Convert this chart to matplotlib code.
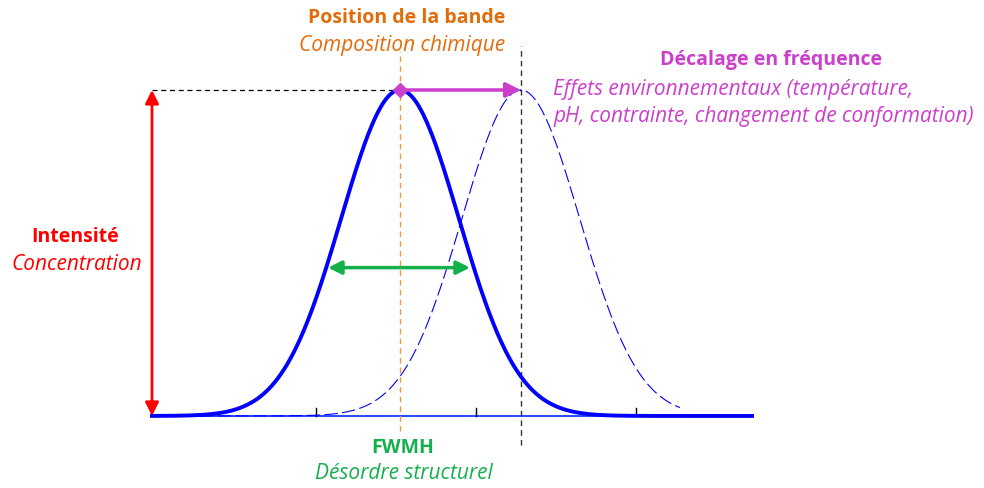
import numpy as np
import matplotlib.pyplot as plt

# Paramètres des bandes (unités arbitraires)
centre_bande = 6.2
centre_decalee = 9.22
largeur = 1.47
intensite = 1.0
x_min, x_max = 0.0, 15.0
x_decalee = (1.2, 13.2)
graduations = [4.1, 8.1, 12.1]
demi_hauteur = 0.455

orange = '#E36C0A'
magenta = '#CC3FCC'
rouge = '#FF0000'
vert = '#14B04C'
bleu = '#0000FF'

plt.rcParams['font.family'] = ['Open Sans', 'DejaVu Sans']

fig = plt.figure(figsize=(9.84, 4.88), dpi=100)
ax = fig.add_axes([0, 0, 1, 1])
ax.set_xlim(-3.8, 20.8)
ax.set_ylim(-0.221, 1.276)
ax.axis('off')

x = np.linspace(x_min, x_max, 600)
x2 = np.linspace(x_decalee[0], x_decalee[1], 500)
bande = intensite * np.exp(-0.5 * ((x - centre_bande) / largeur) ** 2)
decalee = intensite * np.exp(-0.5 * ((x2 - centre_decalee) / largeur) ** 2)

# axe et graduations
ax.plot([x_min, x_max], [0, 0], color='#3050FF', lw=1.5, zorder=1)
for g in graduations:
    ax.plot([g, g], [0, 0.025], color='black', lw=1, zorder=1)

ax.plot(x2, decalee, color=bleu, lw=0.8, dashes=(12, 4), zorder=2)
ax.plot(x, bande, color=bleu, lw=2.8, zorder=3)

# lignes de repère
ax.plot([x_min, centre_decalee], [intensite, intensite], color='black', lw=0.9,
        dashes=(4, 3), zorder=1)
ax.plot([centre_bande, centre_bande], [-0.045, 1.12], color='#F79646', lw=1,
        dashes=(4, 3), zorder=1)
ax.plot([centre_decalee, centre_decalee], [-0.09, 1.135], color='#333333', lw=1,
        dashes=(4, 3), zorder=1)

# flèches
ax.annotate('', xy=(x_min, intensite), xytext=(x_min, 0),
            arrowprops=dict(arrowstyle='<|-|>', color=rouge, lw=2,
                            mutation_scale=20, shrinkA=0, shrinkB=0))
ax.annotate('', xy=(centre_bande - 1.8, demi_hauteur), xytext=(centre_bande + 1.75, demi_hauteur),
            arrowprops=dict(arrowstyle='<|-|>', color=vert, lw=2.5,
                            mutation_scale=20, shrinkA=0, shrinkB=0))
ax.annotate('', xy=(centre_decalee, intensite), xytext=(centre_bande, intensite),
            arrowprops=dict(arrowstyle='-|>', color=magenta, lw=2.5,
                            mutation_scale=22, shrinkA=0, shrinkB=0))
ax.plot(centre_bande, intensite, marker='D', color=magenta, ms=7, zorder=4)

# textes
gras = 14
ital = 15
ax.text(6.375, 1.221, 'Position de la bande', color=orange, fontsize=gras,
        fontweight='bold', ha='center', va='center')
ax.text(6.25, 1.135, 'Composition chimique', color=orange, fontsize=ital,
        style='italic', ha='center', va='center')

ax.text(15.475, 1.092, 'Décalage en fréquence', color=magenta, fontsize=gras,
        fontweight='bold', ha='center', va='center')
ax.text(10.025, 1.0, 'Effets environnementaux (température,', color=magenta,
        fontsize=ital, style='italic', ha='left', va='center')
ax.text(10.025, 0.92, 'pH, contrainte, changement de conformation)', color=magenta,
        fontsize=ital, style='italic', ha='left', va='center')

ax.text(-1.925, 0.549, 'Intensité', color=rouge, fontsize=gras, fontweight='bold',
        ha='center', va='center')
ax.text(-1.875, 0.465, 'Concentration', color=rouge, fontsize=ital, style='italic',
        ha='center', va='center')

ax.text(6.275, -0.098, 'FWMH', color=vert, fontsize=gras, fontweight='bold',
        ha='center', va='center')
ax.text(6.3, -0.178, 'Désordre structurel', color=vert, fontsize=ital,
        style='italic', ha='center', va='center')

fig.savefig('out.png', dpi=100)
